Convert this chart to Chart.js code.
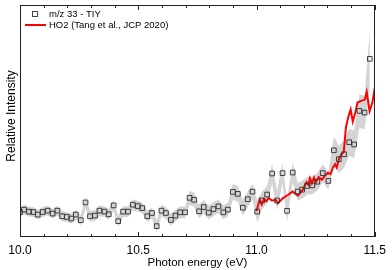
<!DOCTYPE html>
<html>
<head>
<meta charset="utf-8">
<script src="https://cdn.jsdelivr.net/npm/chart.js@4/dist/chart.umd.min.js"></script>
<style>
  body { margin: 0; background: #fff; }
  canvas { display: block; }
</style>
</head>
<body>
<canvas id="tiy_chart" width="392" height="270"></canvas>
<script>
// m/z 33 TIY measurement (photon energy in eV, relative intensity)
const tiyEnergy = [
  10.000, 10.017, 10.038, 10.056, 10.075, 10.096, 10.117, 10.138, 10.158, 10.178,
  10.198, 10.217, 10.236, 10.257, 10.277, 10.296, 10.317, 10.336, 10.357, 10.375,
  10.396, 10.415, 10.436, 10.457, 10.477, 10.498, 10.517, 10.538, 10.558, 10.578,
  10.598, 10.617, 10.638, 10.657, 10.677, 10.698, 10.717, 10.736, 10.757, 10.777,
  10.798, 10.818, 10.839, 10.860, 10.879, 10.900, 10.921, 10.942, 10.963, 10.983,
  11.003, 11.024, 11.045, 11.066, 11.087, 11.110, 11.129, 11.153, 11.174, 11.193,
  11.214, 11.236, 11.257, 11.280, 11.304, 11.327, 11.348, 11.370, 11.392, 11.413,
  11.435, 11.457, 11.479
];
const tiyValues = [
  0.253, 0.277, 0.257, 0.253, 0.227, 0.253, 0.267, 0.237, 0.267, 0.210,
  0.203, 0.187, 0.227, 0.170, 0.350, 0.210, 0.217, 0.267, 0.257, 0.230,
  0.320, 0.160, 0.257, 0.257, 0.327, 0.313, 0.293, 0.210, 0.243, 0.110,
  0.267, 0.243, 0.173, 0.217, 0.250, 0.250, 0.397, 0.377, 0.260, 0.303,
  0.247, 0.283, 0.310, 0.250, 0.277, 0.457, 0.437, 0.297, 0.383, 0.460,
  0.257, 0.370, 0.430, 0.643, 0.370, 0.647, 0.265, 0.653, 0.460, 0.480,
  0.517, 0.523, 0.560, 0.647, 0.568, 0.878, 0.788, 0.838, 0.960, 0.937,
  1.277, 1.260, 1.805
];
// half width of the grey uncertainty band
const tiyError = [
  0.05, 0.05, 0.05, 0.05, 0.05, 0.05, 0.05, 0.05, 0.05, 0.05,
  0.05, 0.05, 0.05, 0.05, 0.06, 0.055, 0.055, 0.055, 0.055, 0.055,
  0.055, 0.055, 0.055, 0.055, 0.055, 0.055, 0.055, 0.055, 0.055, 0.06,
  0.06, 0.06, 0.06, 0.06, 0.06, 0.06, 0.07, 0.07, 0.07, 0.07,
  0.07, 0.07, 0.07, 0.07, 0.07, 0.08, 0.08, 0.08, 0.08, 0.08,
  0.11, 0.09, 0.09, 0.10, 0.10, 0.10, 0.11, 0.10, 0.09, 0.09,
  0.09, 0.09, 0.09, 0.09, 0.09, 0.14, 0.14, 0.14, 0.14, 0.14,
  0.17, 0.17, 0.30
];

// HO2 reference spectrum (Tang et al., JCP 2020)
const ho2Energy = [
  11.000, 11.013, 11.022, 11.031, 11.042, 11.051, 11.065, 11.082, 11.090, 11.111,
  11.132, 11.153, 11.175, 11.197, 11.211, 11.219, 11.226, 11.234, 11.243, 11.251,
  11.263, 11.276, 11.289, 11.302, 11.313, 11.323, 11.332, 11.339, 11.349, 11.359,
  11.369, 11.378, 11.387, 11.398, 11.407, 11.418, 11.427, 11.440, 11.458, 11.466,
  11.478, 11.490, 11.500
];
const ho2Values = [
  0.260, 0.377, 0.330, 0.385, 0.363, 0.395, 0.370, 0.375, 0.340, 0.392,
  0.425, 0.460, 0.420, 0.485, 0.555, 0.530, 0.595, 0.545, 0.600, 0.555,
  0.607, 0.580, 0.620, 0.650, 0.637, 0.702, 0.737, 0.705, 0.795, 0.837,
  0.863, 1.110, 1.205, 1.292, 1.170, 1.262, 1.362, 1.377, 1.392, 1.470,
  1.275, 1.362, 1.507
];

const xTickLabels = ["10.0", "10.5", "11.0", "11.5"];

const tiyPoints = tiyEnergy.map((e, i) => ({x: e, y: tiyValues[i]}));
const bandLow = tiyEnergy.map((e, i) => ({x: e, y: tiyValues[i] - tiyError[i]}));
const bandHigh = tiyEnergy.map((e, i) => ({x: e, y: tiyValues[i] + tiyError[i]}));
const ho2Points = ho2Energy.map((e, i) => ({x: e, y: ho2Values[i]}));

// frame, inward ticks, y title and the legend inside the plot
const framePlugin = {
  id: 'frame',
  afterDraw(chart){
    const ctx = chart.ctx;
    const area = chart.chartArea;
    const xs = chart.scales.x;
    ctx.save();
    ctx.strokeStyle = '#222';
    ctx.lineWidth = 1;
    ctx.strokeRect(Math.round(area.left) + 0.5, Math.round(area.top) + 0.5,
                   Math.round(area.right - area.left) - 1, Math.round(area.bottom - area.top) - 1);
    for(let k = 0; k <= 15; k++){
      const px = Math.round(xs.getPixelForValue(10 + k * 0.1)) + 0.5;
      const len = (k % 5 === 0) ? 5 : 3;
      ctx.beginPath();
      ctx.moveTo(px, area.bottom);
      ctx.lineTo(px, area.bottom - len);
      ctx.moveTo(px, area.top);
      ctx.lineTo(px, area.top + len);
      ctx.stroke();
    }

    ctx.fillStyle = '#000';
    ctx.font = '12px "Liberation Sans", Arial, sans-serif';
    ctx.textAlign = 'center';
    ctx.textBaseline = 'middle';
    ctx.save();
    ctx.translate(12, 116);
    ctx.rotate(-Math.PI / 2);
    ctx.fillText('Relative Intensity', 0, 0);
    ctx.restore();

    // legend
    ctx.textAlign = 'left';
    ctx.font = '9.5px "Liberation Sans", Arial, sans-serif';
    ctx.strokeStyle = '#444';
    ctx.strokeRect(32.5, 11.5, 5, 5);
    ctx.fillText('m/z 33 - TIY', 49, 14.5);
    ctx.strokeStyle = '#ff0000';
    ctx.lineWidth = 2;
    ctx.beginPath();
    ctx.moveTo(25, 25);
    ctx.lineTo(46, 25);
    ctx.stroke();
    ctx.fillText('HO2 (Tang et al., JCP 2020)', 49, 25);
    ctx.restore();
  }
};

Chart.defaults.font.family = '"Liberation Sans", Arial, sans-serif';
Chart.defaults.color = '#000';

const ctx = document.getElementById('tiy_chart').getContext('2d');
const chart = new Chart(ctx, {
  type: 'line',
  data: {
    datasets: [
      {
        label: 'm/z 33 - TIY',
        data: tiyPoints,
        showLine: false,
        pointStyle: 'rect',
        pointRadius: 3.3,
        pointBorderWidth: 1,
        pointBorderColor: '#3a3a3a',
        pointBackgroundColor: 'rgba(0,0,0,0)',
        fill: false
      },
      {
        label: 'HO2 (Tang et al., JCP 2020)',
        data: ho2Points,
        borderColor: '#ff0000',
        borderWidth: 2,
        pointRadius: 0,
        tension: 0,
        fill: false
      },
      {
        label: 'band low',
        data: bandLow,
        borderWidth: 0,
        borderColor: 'rgba(0,0,0,0)',
        pointRadius: 0,
        fill: false
      },
      {
        label: 'band high',
        data: bandHigh,
        borderWidth: 0,
        borderColor: 'rgba(0,0,0,0)',
        backgroundColor: '#d4d4d4',
        pointRadius: 0,
        fill: 2
      }
    ]
  },
  options: {
    responsive: false,
    animation: false,
    layout: { padding: { top: 2, right: 12, left: 0, bottom: 0 } },
    plugins: {
      legend: { display: false },
      tooltip: { enabled: false },
      filler: { drawTime: 'beforeDatasetsDraw' }
    },
    scales: {
      x: {
        type: 'linear',
        min: 10,
        max: 11.5,
        grid: { display: false, drawTicks: false },
        border: { display: false },
        ticks: {
          stepSize: 0.5,
          autoSkip: false,
          maxRotation: 0,
          padding: 6,
          font: { size: 12 },
          callback: function(value){
            const idx = Math.round((value - 10) / 0.5);
            return xTickLabels[idx];
          }
        },
        title: {
          display: true,
          text: 'Photon energy (eV)',
          font: { size: 11.5 },
          padding: { top: 0, bottom: 0 }
        },
        afterFit: function(scale){ scale.height = 33; }
      },
      y: {
        min: 0,
        max: 2.35,
        grid: { display: false, drawTicks: false },
        border: { display: false },
        ticks: { display: false },
        title: { display: false },
        afterFit: function(scale){ scale.width = 20; }
      }
    }
  },
  plugins: [framePlugin]
});
</script>
</body>
</html>
